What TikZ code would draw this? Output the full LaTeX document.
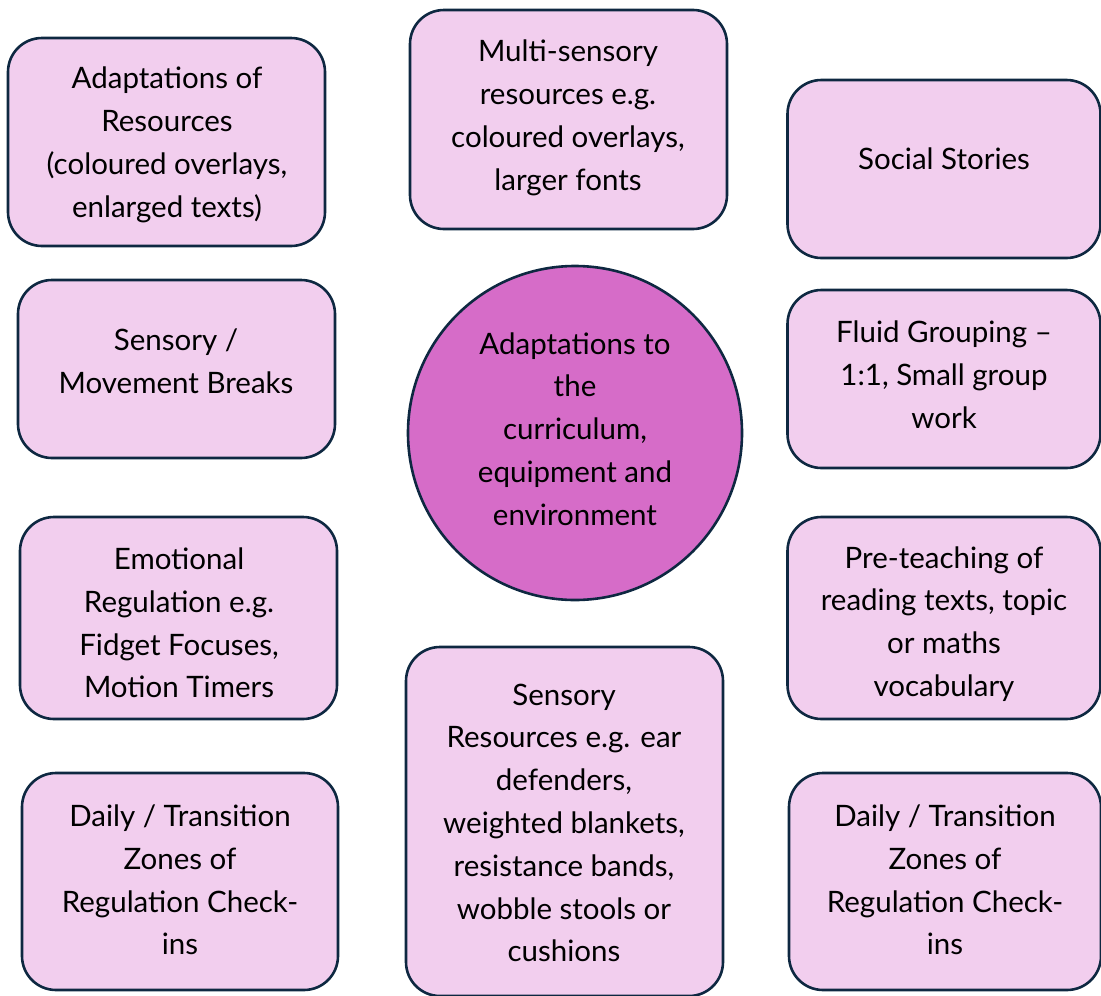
\documentclass[tikz,border=0pt]{standalone}
\usepackage{fontspec}
\setmainfont{Lato}
\definecolor{boxfill}{RGB}{242,206,238}
\definecolor{hubfill}{RGB}{214,108,200}
\definecolor{edgecol}{RGB}{14,40,65}
\tikzset{
  card/.style={draw=edgecol, fill=boxfill, line width=2.6pt, rounded corners=34pt, inner sep=0pt},
  hub/.style={draw=edgecol, fill=hubfill, line width=2.6pt, circle, inner sep=0pt},
  lbl/.style={align=center, inner sep=0pt, font=\fontsize{29.5}{42.8}\selectfont, text=black, yshift=-3pt}
}
\begin{document}
\begin{tikzpicture}[x=1pt,y=-1pt]
\useasboundingbox (0,0) rectangle (1101,996);
% boxes
\node[card, minimum width=317pt, minimum height=208pt] (b1) at (166.5,142) {};
\node[card, minimum width=317pt, minimum height=219pt] (b2) at (568.5,119.5) {};
\node[card, minimum width=313pt, minimum height=178pt] (b3) at (944,169) {};
\node[card, minimum width=317pt, minimum height=178pt] (b4) at (176.5,369) {};
\node[card, minimum width=313pt, minimum height=178pt] (b5) at (944,379) {};
\node[card, minimum width=317pt, minimum height=202pt] (b6) at (178.5,618) {};
\node[card, minimum width=313pt, minimum height=202pt] (b7) at (944,618) {};
\node[card, minimum width=316pt, minimum height=217pt] (b8) at (180,881.5) {};
\node[card, minimum width=317pt, minimum height=349pt] (b9) at (564.5,821.5) {};
\node[card, minimum width=312pt, minimum height=217pt] (b10) at (945,881.5) {};
\node[hub, minimum size=334pt] (hub) at (575,433) {};
% labels
\node[lbl] (t1) at (167,142) {Adaptations of\\Resources\\(coloured overlays,\\enlarged texts)};
\node[lbl] (t2) at (568,115) {Multi-sensory\\resources e.g.\\coloured overlays,\\larger fonts};
\node[lbl] (t3) at (944,156) {Social Stories};
\node[lbl] (t4) at (176,358) {Sensory /\\Movement Breaks};
\node[lbl] (t5) at (944,372) {Fluid Grouping --\\1:1, Small group\\work};
\node[lbl] (t6) at (179,620) {Emotional\\Regulation e.g.\\Fidget Focuses,\\Motion Timers};
\node[lbl] (t7) at (944,621) {Pre-teaching of\\reading texts, topic\\or maths\\vocabulary};
\node[lbl] (t8) at (180,877) {Daily / Transition\\Zones of\\Regulation Check-\\ins};
\node[lbl] (t9) at (564,820) {Sensory\\Resources e.g. ear\\defenders,\\weighted blankets,\\resistance bands,\\wobble stools or\\cushions};
\node[lbl] (t10) at (945,877) {Daily / Transition\\Zones of\\Regulation Check-\\ins};
\node[lbl] (th) at (575,426) {Adaptations to\\the\\curriculum,\\equipment and\\environment};
\end{tikzpicture}
\end{document}
